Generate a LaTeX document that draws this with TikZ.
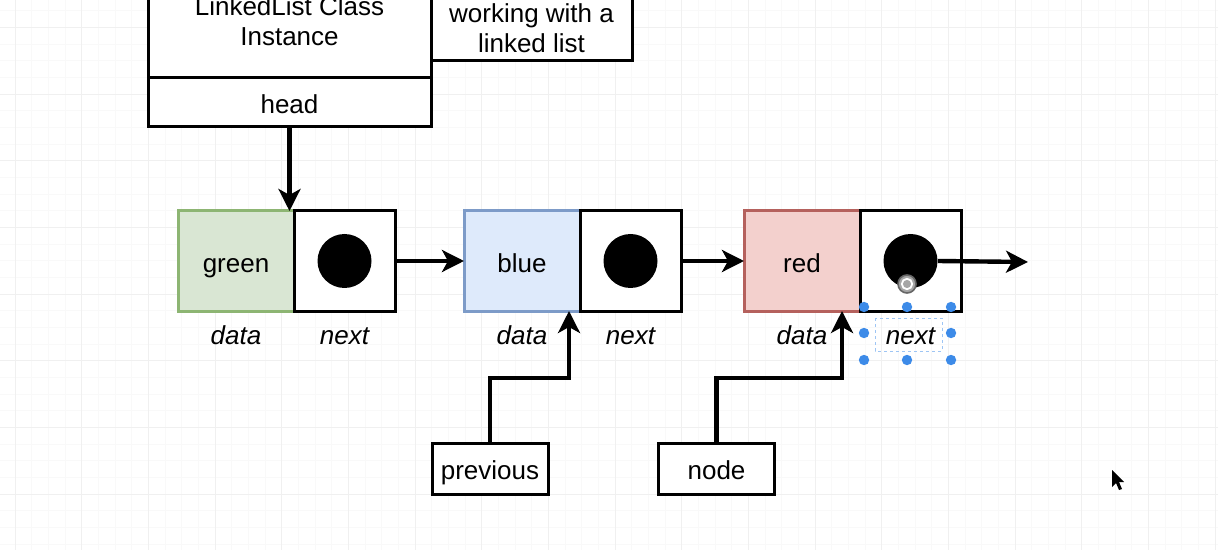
\documentclass[tikz,border=0pt]{standalone}
\usepackage{fontspec}
\setmainfont{Liberation Sans}
\usetikzlibrary{arrows.meta,positioning}
\definecolor{greenbg}{HTML}{D9E6D3}
\definecolor{greenline}{HTML}{8DB573}
\definecolor{bluebg}{HTML}{DEEAFB}
\definecolor{blueline}{HTML}{7D9BC8}
\definecolor{redbg}{HTML}{F3D0CD}
\definecolor{redline}{HTML}{B5615D}
\definecolor{selblue}{HTML}{3D8BE8}
\newcommand{\boxfont}{\fontsize{13}{15}\selectfont}
\tikzstyle{box}=[draw,line width=1.5pt,outer sep=0pt,inner sep=0pt,align=center]
\tikzstyle{onerow}=[text height=11.5pt,text depth=0.5pt]
\tikzstyle{databox}=[box,onerow,minimum width=58pt,minimum height=50pt]
\tikzstyle{nextbox}=[box,fill=white,minimum width=50.5pt,minimum height=50pt]
\tikzstyle{varbox}=[box,onerow,fill=white,minimum width=58pt,minimum height=25.5pt]
\tikzstyle{dot}=[circle,fill=black,minimum size=27pt,inner sep=0pt]
\tikzstyle{pointer}=[draw,line width=2.2pt,-{Stealth[length=11pt,width=11pt,inset=3pt]}]
\tikzstyle{fieldlabel}=[font=\boxfont\itshape,inner sep=0pt,text height=9.5pt,text depth=2.5pt]
\tikzstyle{minorgrid}=[draw=black!2.5,line width=0.4pt]
\tikzstyle{majorgrid}=[draw=black!6,line width=0.5pt]

\begin{document}
\begin{tikzpicture}[x=0.5pt,y=-0.5pt,font=\boxfont]
    \useasboundingbox (0,0) rectangle (1218,550);
    \clip (0,0) rectangle (1218,550);
    \fill[white] (0,0) rectangle (1218,550);

    % canvas grid
    \foreach \i in {-1,...,72}
        \draw[minorgrid] ({15+16.667*\i},0) -- ++(0,550);
    \foreach \j in {-2,...,32}
        \draw[minorgrid] (0,{27.5+16.667*\j}) -- ++(1218,0);
    \foreach \i in {0,...,18}
        \draw[majorgrid] ({15+66.667*\i},0) -- ++(0,550);
    \foreach \j in {0,...,7}
        \draw[majorgrid] (0,{27.5+66.667*\j}) -- ++(1218,0);

    % list instance
    \node[box,fill=white,minimum width=141.5pt,minimum height=57pt] (list) at (289.5,21) {LinkedList Class\\Instance};
    \node[box,onerow,fill=white,minimum width=141.5pt,minimum height=24.5pt,below=0pt of list] (head) {head};
    \node[box,fill=white,minimum width=100.5pt,minimum height=33pt,anchor=south west] (note) at (431,61) {working with a\\linked list};

    % the three nodes
    \foreach \name/\x/\col in {1/236/green, 2/522/blue, 3/802/red} {
        \node[databox,fill=\col bg,draw=\col line] (d\name) at (\x,261) {\col};
        \node[nextbox,right=0pt of d\name] (n\name) {};
        \node[dot] (dot\name) at (n\name) {};
        \node[fieldlabel,below=7pt of d\name] (dl\name) {data};
        \node[fieldlabel,below=7pt of n\name] (nl\name) {next};
    }

    \coordinate (tail) at (1028,262);
    \draw[pointer] (head.south) -- (head.south |- d1.north);
    \draw[pointer] (n1.east) -- (d2.west);
    \draw[pointer] (n2.east) -- (d3.west);
    \draw[pointer] (dot3.east) -- (tail);

    % variables
    \node[varbox] (prev) at (490,468.5) {previous};
    \node[varbox] (cur) at (716.5,468.5) {node};
    \draw[pointer] (prev.north) -- ++(0,-65) -| ([xshift=-5.5pt]d2.south east);
    \draw[pointer] (cur.north) -- ++(0,-65) -| ([xshift=-9pt]d3.south east);

    % editor selection on the last label
    \draw[selblue!50,line width=0.5pt,dash pattern=on 1.5pt off 1.5pt] (875,318) rectangle (942,351);
    \foreach \pos in {(864,307),(907,307),(951,307),(864,333),(951,333),(864,360),(907,360),(951,360)}
        \fill[selblue] \pos circle (2.6pt);
    \fill[black!35] (907,284) circle (4.5pt);
    \draw[white,line width=0.9pt] (907,284) circle (2.6pt);
    \draw[black!60,line width=0.8pt] (907,284) circle (4.5pt);

    % mouse pointer
    \fill[black] (1112,470) -- (1112,487) -- (1116,483) -- (1119,490) -- (1122,489) -- (1119,482) -- (1124,482) -- cycle;
\end{tikzpicture}
\end{document}
